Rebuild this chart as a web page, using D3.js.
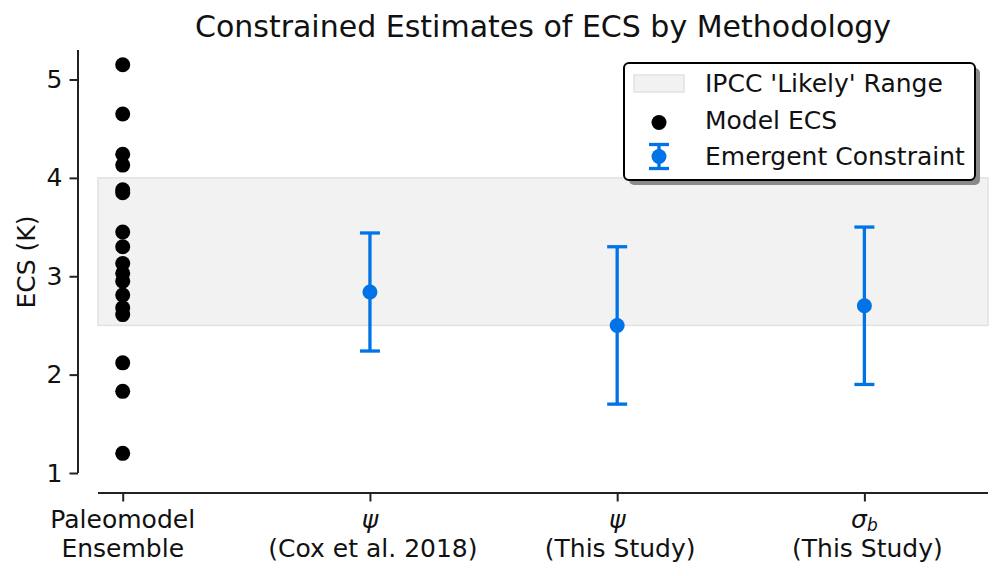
<!DOCTYPE html>
<html>
<head>
<meta charset="utf-8">
<script src="https://cdn.jsdelivr.net/npm/d3@7"></script>
<style>
  body { margin: 0; background: #fff; }
  svg { font-family: "DejaVu Sans", sans-serif; }
</style>
</head>
<body>
<div id="root"></div>
<script>
// categories on the x axis (two lines each, first line may be math)
var categoryTop = ["Paleomodel", "\u03c8", "\u03c8", "\u03c3"];
var categorySub = ["", "", "", "b"];
var categoryMath = [false, true, true, true];
var categoryBottom = ["Ensemble", "(Cox et al. 2018)", "(This Study)", "(This Study)"];

// ECS of each paleo model (K)
var modelEcs = [5.15, 4.65, 4.24, 4.13, 3.88, 3.85, 3.45, 3.30, 3.13, 3.03,
                2.95, 2.81, 2.68, 2.61, 2.12, 1.83, 1.20];

// emergent constraints
var constraintPos = [1, 2, 3];
var constraintMean = [2.84, 2.50, 2.70];
var constraintErr = [0.60, 0.80, 0.80];

var ipccRange = [2.5, 4.0];
var yTicks = [1, 2, 3, 4, 5];

var W = 1002, H = 576;
var blue = "#0073e6";
var fs = 25;

var svg = d3.select("#root").append("svg")
    .attr("width", W)
    .attr("height", H);

var x = d3.scaleLinear().domain([-0.1, 3.5]).range([98, 988]);
var y = d3.scaleLinear().domain([1, 5.3]).range([473, 50]);

// IPCC likely band
svg.append("rect")
    .attr("x", x(-0.1))
    .attr("width", x(3.5) - x(-0.1))
    .attr("y", y(ipccRange[1]))
    .attr("height", y(ipccRange[0]) - y(ipccRange[1]))
    .attr("fill", "#f2f2f2")
    .attr("stroke", "#e2e2e2")
    .attr("stroke-width", 1.5);

// y axis, offset to the left
var yAxis = d3.axisLeft(y).tickValues(yTicks).tickSize(8.5).tickPadding(7).tickFormat(d3.format("d"));
var gy = svg.append("g")
    .attr("transform", "translate(78,0)")
    .call(yAxis);
gy.select(".domain").attr("d", "M0," + y(5.3) + "V" + y(1));

// x axis, offset downwards
var xAxis = d3.axisBottom(x).tickValues([0, 1, 2, 3]).tickSize(8.5).tickFormat("");
var gx = svg.append("g")
    .attr("transform", "translate(0,493)")
    .call(xAxis);
gx.select(".domain").attr("d", "M" + x(-0.1) + ",0H" + x(3.5));

svg.selectAll(".domain, .tick line")
    .attr("stroke", "#222")
    .attr("stroke-width", 2);
gy.attr("font-size", fs).attr("font-family", "DejaVu Sans");
gy.selectAll(".tick text")
    .attr("fill", "#111");

// two-line x tick labels
var xl = svg.append("g").selectAll("g")
    .data(categoryTop)
    .enter().append("g")
    .attr("transform", function (d, i) { return "translate(" + x(i) + ",0)"; });

var topLine = xl.append("text")
    .attr("y", 528)
    .attr("text-anchor", "middle")
    .attr("font-size", fs)
    .attr("fill", "#111")
    .attr("font-style", function (d, i) { return categoryMath[i] ? "italic" : "normal"; });
topLine.append("tspan").text(function (d) { return d; });
topLine.append("tspan")
    .attr("dy", 3)
    .attr("font-size", 17)
    .text(function (d, i) { return categorySub[i]; });

xl.append("text")
    .attr("x", function (d, i) { return categoryMath[i] ? 3 : 0; })
    .attr("y", 557)
    .attr("text-anchor", "middle")
    .attr("font-size", fs)
    .attr("fill", "#111")
    .text(function (d, i) { return categoryBottom[i]; });

// model dots
svg.selectAll(".model")
    .data(modelEcs)
    .enter().append("circle")
    .attr("class", "model")
    .attr("cx", x(0))
    .attr("cy", function (d) { return y(d); })
    .attr("r", 7.5)
    .attr("fill", "#000");

// error bars
var eb = svg.selectAll(".eb")
    .data(constraintMean)
    .enter().append("g")
    .attr("class", "eb");
eb.append("line")
    .attr("x1", function (d, i) { return x(constraintPos[i]); })
    .attr("x2", function (d, i) { return x(constraintPos[i]); })
    .attr("y1", function (d, i) { return y(d - constraintErr[i]); })
    .attr("y2", function (d, i) { return y(d + constraintErr[i]); })
    .attr("stroke", blue).attr("stroke-width", 3.3);
[-1, 1].forEach(function (s) {
    eb.append("line")
        .attr("x1", function (d, i) { return x(constraintPos[i]) - 10; })
        .attr("x2", function (d, i) { return x(constraintPos[i]) + 10; })
        .attr("y1", function (d, i) { return y(d + s * constraintErr[i]); })
        .attr("y2", function (d, i) { return y(d + s * constraintErr[i]); })
        .attr("stroke", blue).attr("stroke-width", 3.3);
});
eb.append("circle")
    .attr("cx", function (d, i) { return x(constraintPos[i]); })
    .attr("cy", function (d) { return y(d); })
    .attr("r", 7.5)
    .attr("fill", blue);

// title and y label
svg.append("text")
    .attr("x", (x(-0.1) + x(3.5)) / 2)
    .attr("y", 37)
    .attr("text-anchor", "middle")
    .attr("font-size", 30)
    .attr("fill", "#111")
    .text("Constrained Estimates of ECS by Methodology");

svg.append("text")
    .attr("transform", "translate(35,262) rotate(-90)")
    .attr("text-anchor", "middle")
    .attr("font-size", fs)
    .attr("fill", "#111")
    .text("ECS (K)");

// legend
var lg = svg.append("g");
lg.append("rect")
    .attr("x", 629).attr("y", 68).attr("width", 351).attr("height", 117)
    .attr("rx", 5).attr("fill", "#8a8a8a");
lg.append("rect")
    .attr("x", 624).attr("y", 63).attr("width", 351).attr("height", 117)
    .attr("rx", 5).attr("fill", "#fff")
    .attr("stroke", "#000").attr("stroke-width", 2);
lg.append("rect")
    .attr("x", 634).attr("y", 75).attr("width", 50).attr("height", 17)
    .attr("fill", "#f2f2f2").attr("stroke", "#e2e2e2").attr("stroke-width", 1.5);
lg.append("circle").attr("cx", 659).attr("cy", 122.5).attr("r", 7.5).attr("fill", "#000");
lg.append("line").attr("x1", 659).attr("x2", 659).attr("y1", 144.5).attr("y2", 168.5)
    .attr("stroke", blue).attr("stroke-width", 3.3);
[144.5, 168.5].forEach(function (cy) {
    lg.append("line").attr("x1", 649).attr("x2", 669).attr("y1", cy).attr("y2", cy)
        .attr("stroke", blue).attr("stroke-width", 3.3);
});
lg.append("circle").attr("cx", 659).attr("cy", 156.5).attr("r", 7.5).attr("fill", blue);

var legendLabels = ["IPCC 'Likely' Range", "Model ECS", "Emergent Constraint"];
lg.selectAll(".lt")
    .data(legendLabels)
    .enter().append("text")
    .attr("x", 705)
    .attr("y", function (d, i) { return 92 + i * 36.5; })
    .attr("font-size", fs)
    .attr("fill", "#111")
    .text(function (d) { return d; });
</script>
</body>
</html>
